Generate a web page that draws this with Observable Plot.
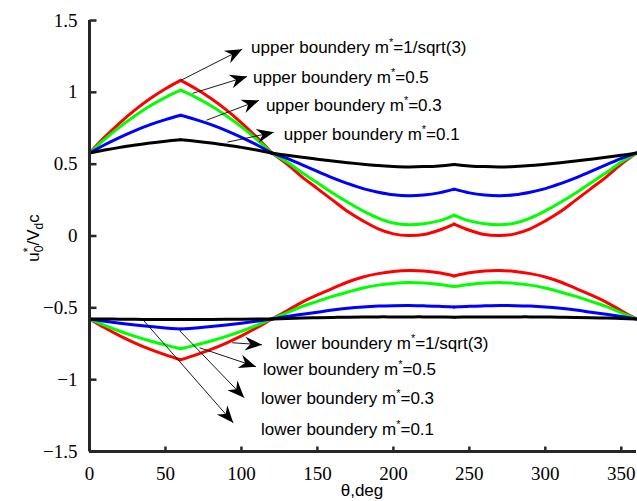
<!DOCTYPE html>
<html><head><meta charset="utf-8">
<script src="https://cdn.jsdelivr.net/npm/d3@7"></script>
<script src="https://cdn.jsdelivr.net/npm/@observablehq/plot@0.6"></script>
<style>body{margin:0;background:#fff}</style>
</head><body><div id="chart"></div>
<script>
const theta = [0,10,20,30,40,50,60,70,80,90,100,110,120,130,140,150,160,170,180,190,200,210,220,230,240,250,260,270,280,290,300,310,320,330,340,350,360];
const upperA = [0.577,0.688,0.788,0.878,0.957,1.025,1.083,1.025,0.957,0.878,0.788,0.688,0.577,0.50,0.41,0.33,0.25,0.17,0.105,0.05,0.015,0.003,0.01,0.04,0.083,0.04,0.01,0.003,0.015,0.05,0.105,0.17,0.25,0.33,0.41,0.50,0.577];
const upperG = [0.577,0.673,0.760,0.837,0.906,0.965,1.015,0.965,0.906,0.837,0.760,0.673,0.577,0.515,0.44,0.37,0.30,0.235,0.175,0.125,0.09,0.078,0.085,0.105,0.146,0.105,0.085,0.078,0.09,0.125,0.175,0.235,0.30,0.37,0.44,0.515,0.577];
const upperB = [0.577,0.635,0.687,0.734,0.775,0.810,0.84,0.810,0.775,0.734,0.687,0.635,0.577,0.54,0.495,0.45,0.405,0.365,0.33,0.305,0.287,0.28,0.285,0.30,0.326,0.30,0.285,0.28,0.287,0.305,0.33,0.365,0.405,0.45,0.495,0.54,0.577];
const upperK = [0.577,0.598,0.617,0.633,0.648,0.660,0.67,0.660,0.648,0.633,0.617,0.598,0.577,0.562,0.548,0.535,0.522,0.51,0.50,0.49,0.484,0.481,0.483,0.488,0.498,0.488,0.483,0.481,0.484,0.49,0.50,0.51,0.522,0.535,0.548,0.562,0.577];
const lowerA = [-0.577,-0.639,-0.695,-0.745,-0.789,-0.827,-0.861,-0.827,-0.789,-0.745,-0.695,-0.639,-0.577,-0.52,-0.46,-0.41,-0.365,-0.32,-0.285,-0.262,-0.247,-0.24,-0.243,-0.256,-0.278,-0.256,-0.243,-0.24,-0.247,-0.262,-0.285,-0.32,-0.365,-0.41,-0.46,-0.52,-0.577];
const lowerG = [-0.577,-0.622,-0.663,-0.699,-0.731,-0.759,-0.785,-0.759,-0.731,-0.699,-0.663,-0.622,-0.577,-0.535,-0.49,-0.455,-0.42,-0.39,-0.362,-0.342,-0.33,-0.323,-0.327,-0.337,-0.352,-0.337,-0.327,-0.323,-0.33,-0.342,-0.362,-0.39,-0.42,-0.455,-0.49,-0.535,-0.577];
const lowerB = [-0.577,-0.593,-0.607,-0.619,-0.630,-0.640,-0.648,-0.640,-0.630,-0.619,-0.607,-0.593,-0.577,-0.56,-0.545,-0.53,-0.515,-0.503,-0.494,-0.488,-0.485,-0.484,-0.486,-0.489,-0.495,-0.489,-0.486,-0.484,-0.485,-0.488,-0.494,-0.503,-0.515,-0.53,-0.545,-0.56,-0.577];
const lowerK = [-0.577,-0.578,-0.579,-0.58,-0.581,-0.582,-0.582,-0.582,-0.581,-0.58,-0.579,-0.578,-0.577,-0.574,-0.571,-0.569,-0.567,-0.565,-0.564,-0.563,-0.563,-0.563,-0.563,-0.564,-0.565,-0.564,-0.563,-0.563,-0.563,-0.563,-0.564,-0.565,-0.567,-0.569,-0.571,-0.574,-0.577];
const seriesColors = ["#ff0000","#00ff00","#0000ff","#000000"];
const xTicks = [0,50,100,150,200,250,300,350];
const yTicks = [-1.5,-1,-0.5,0,0.5,1,1.5];
const cusps = [60,120,240];

const arrowFromTheta = [60, 67.8, 77, 90.7, 93.9, 72.4, 59.4, 35.2];
const arrowFromU = [1.083, 0.993, 0.806, 0.653, -0.743, -0.778, -0.66, -0.583];
const arrowToTheta = [100.5, 103.7, 111.5, 121.3, 113.5, 109.6, 101.8, 94.6];
const arrowToU = [1.30, 1.11, 0.944, 0.722, -0.757, -0.91, -1.125, -1.30];
const labelTheta = [106.3, 107.6, 116.1, 127.9, 122.6, 114.2, 112.9, 112.9];
const labelU = [1.313, 1.104, 0.91, 0.708, -0.75, -0.93, -1.13, -1.347];
const labelText = ["upper boundery m*=1/sqrt(3)","upper boundery m*=0.5","upper boundery m*=0.3","upper boundery m*=0.1","lower boundery m*=1/sqrt(3)","lower boundery m*=0.5","lower boundery m*=0.3","lower boundery m*=0.1"];

const W = 637, H = 501;
const xOpt = {domain: [0, 360], range: [89, 636], axis: null};
const yOpt = {domain: [-1.5, 1.5], range: [451, 20], axis: null};

const series = [
  {v: upperA, c: 0}, {v: lowerA, c: 0},
  {v: upperG, c: 1}, {v: lowerG, c: 1},
  {v: upperB, c: 2}, {v: lowerB, c: 2},
  {v: upperK, c: 3}, {v: lowerK, c: 3}
];
const rows = [];
series.forEach((s, k) => {
  theta.forEach((t, i) => {
    const p = cusps.filter(b => b < t).length;
    rows.push({t, u: s.v[i], color: seriesColors[s.c], z: k + "-" + p});
    if (cusps.includes(t)) rows.push({t, u: s.v[i], color: seriesColors[s.c], z: k + "-" + (p + 1)});
  });
});

const xs = Plot.scale({x: {domain: xOpt.domain, range: xOpt.range}});
const ys = Plot.scale({y: {domain: yOpt.domain, range: yOpt.range}});
const idx = labelText.map((_, i) => i);
const angles = idx.map(i => {
  const dx = xs.apply(arrowToTheta[i]) - xs.apply(arrowFromTheta[i]);
  const dy = ys.apply(arrowToU[i]) - ys.apply(arrowFromU[i]);
  return Math.atan2(dx, -dy) * 180 / Math.PI;
});

const headSymbol = {draw(ctx) { ctx.moveTo(0, 0); ctx.lineTo(7, 17); ctx.lineTo(0, 11.5); ctx.lineTo(-7, 17); ctx.closePath(); }};
const tickRight = {draw(ctx) { ctx.moveTo(0, 0); ctx.lineTo(7, 0); }};
const tickUp = {draw(ctx) { ctx.moveTo(0, 0); ctx.lineTo(0, -5); }};
const fmt = d => (d < 0 ? "\u2212" : "") + String(Math.abs(d));

const serif = "'Liberation Serif', 'Times New Roman', serif";
const sans = "'Liberation Sans', Arial, sans-serif";
const axisColor = "#262626";
const plot = Plot.plot({
  width: W, height: H,
  marginLeft: 89, marginRight: 1, marginTop: 20, marginBottom: 50,
  x: xOpt, y: yOpt,
  color: {type: "identity"},
  style: {background: "#fff"},
  marks: [
    Plot.line(rows, {x: "t", y: "u", z: "z", stroke: "color", strokeWidth: 3, curve: "catmull-rom"}),
    Plot.link(idx, {x1: i => arrowFromTheta[i], y1: i => arrowFromU[i], x2: i => arrowToTheta[i], y2: i => arrowToU[i], stroke: "black", strokeWidth: 0.9}),
    Plot.dot(idx, {x: i => arrowToTheta[i], y: i => arrowToU[i], rotate: i => angles[i], symbol: headSymbol, fill: "black", stroke: "none"}),
    Plot.text(idx, {x: i => labelTheta[i], y: i => labelU[i], text: i => labelText[i], textAnchor: "start", fontSize: 17, fontFamily: sans, fill: "black"}),
    Plot.ruleX([0], {y1: -1.5, y2: 1.5, stroke: axisColor, strokeWidth: 3}),
    Plot.ruleY([-1.5], {x1: 0, x2: 360, stroke: axisColor, strokeWidth: 3}),
    Plot.dot(yTicks, {x: 0, y: d => d, symbol: tickRight, stroke: axisColor, strokeWidth: 2.5, fill: "none"}),
    Plot.dot(xTicks, {x: d => d, y: -1.5, symbol: tickUp, stroke: axisColor, strokeWidth: 2.5, fill: "none"}),
    Plot.text(xTicks, {x: d => d, y: -1.5, text: fmt, dy: 22, fontSize: 19, fontFamily: serif, fill: "black", textAnchor: "middle"}),
    Plot.text(yTicks, {x: 0, y: d => d, text: fmt, dx: -12, fontSize: 19, fontFamily: serif, fill: "black", textAnchor: "end"})
  ]
});
document.getElementById("chart").appendChild(plot);
const svg = d3.select(plot);

// force font families on text groups
svg.selectAll("g").each(function() {
  const f = this.getAttribute("font-family");
  if (f) d3.select(this).style("font-family", f).selectAll("text").style("font-family", f);
});

// superscript stars in annotation labels
svg.selectAll("text").each(function() {
  const s = this.textContent;
  if (!s.includes("*")) return;
  const parts = s.split("*");
  const t = d3.select(this);
  t.text(null);
  t.append("tspan").text(parts[0]);
  t.append("tspan").attr("font-size", 11).attr("dy", -7).text("*");
  t.append("tspan").attr("dy", 7).text(parts[1]);
});

// axis titles
svg.append("text").attr("x", 362).attr("y", 496).attr("text-anchor", "middle")
  .style("font-family", sans).attr("font-size", 17).attr("fill", "black").text("θ,deg");
const yl = svg.append("text").attr("transform", "translate(39,238) rotate(-90)").attr("text-anchor", "middle")
  .style("font-family", sans).attr("font-size", 17).attr("fill", "black");
yl.append("tspan").text("u");
yl.append("tspan").attr("font-size", 12).attr("dy", -7).text("*");
yl.append("tspan").attr("font-size", 12).attr("dx", -4.5).attr("dy", 11).text("0");
yl.append("tspan").attr("dy", -4).text("/V");
yl.append("tspan").attr("font-size", 12).attr("dy", 4).text("d");
yl.append("tspan").attr("dy", -4).text("c");
</script></body></html>
